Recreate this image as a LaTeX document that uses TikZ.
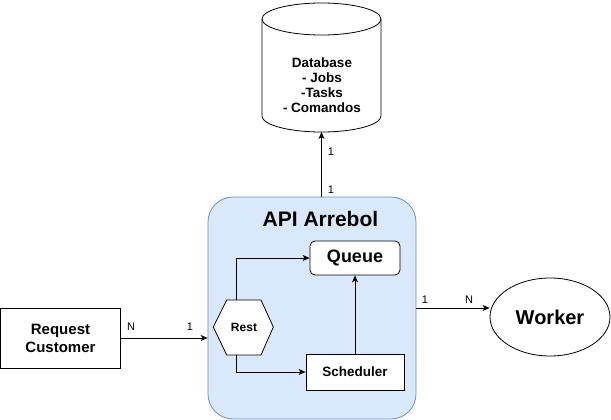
\documentclass[tikz,border=0pt]{standalone}
\usepackage{fontspec}
\setmainfont{Liberation Sans}
\usetikzlibrary{arrows.meta,shapes.geometric}
\definecolor{apifill}{HTML}{DAE8FC}
\definecolor{apidraw}{HTML}{6C8EBF}
\tikzset{
  conn/.style={draw=black, line width=0.8pt, -{Stealth[length=7pt,width=6pt,inset=2pt]}},
  card/.style={font=\fontsize{11}{13}\selectfont, inner sep=0pt},
  boxw/.style={draw=black, line width=0.8pt, fill=white, inner sep=0pt, font=\bfseries},
}
\begin{document}
\begin{tikzpicture}[x=1pt,y=-1pt]
\useasboundingbox (0,0) rectangle (611,420);
% Database cylinder
\draw[line width=0.8pt, fill=white] (262,19) -- (262,116) arc[start angle=180, end angle=360, x radius=59.5pt, y radius=16pt] -- (381,19);
\draw[line width=0.8pt, fill=white] (321.5,19) ellipse[x radius=59.5pt, y radius=16pt];
\node[align=center, font=\bfseries\fontsize{13.5}{15}\selectfont, inner sep=0pt] (db) at (322,85) {Database\\- Jobs\\-Tasks\\- Comandos};
\coordinate (dbbot) at (321.5,132);
% API container
\node[draw=apidraw, fill=apifill, line width=0.8pt, rounded corners=25pt, minimum width=208pt, minimum height=222pt, inner sep=0pt] (api) at (312,308) {};
\node[font=\bfseries\fontsize{21}{24}\selectfont, inner sep=0pt] (apititle) at (320.5,219) {API Arrebol};
% Queue
\node[boxw, rounded corners=5pt, minimum width=90pt, minimum height=34pt, font=\bfseries\fontsize{18}{20}\selectfont] (queue) at (355,258) {Queue};
% Scheduler
\node[boxw, minimum width=98pt, minimum height=36pt, font=\bfseries\fontsize{13.5}{15}\selectfont] (sched) at (355,372) {Scheduler};
% Rest hexagon
\draw[line width=0.8pt, fill=white] (213.3,327) -- (226.7,300) -- (261,300) -- (273.3,327) -- (261,355) -- (226.7,355) -- cycle;
\node[font=\bfseries\fontsize{12}{14}\selectfont, inner sep=0pt] (rest) at (244,327) {Rest};
\coordinate (restTop) at (236,300);
\coordinate (restBot) at (236,355);
% Request Customer
\node[boxw, minimum width=120pt, minimum height=60pt, align=center, font=\bfseries\fontsize{15}{18}\selectfont] (req) at (60.5,338) {Request\\Customer};
% Worker
\node[draw=black, line width=0.8pt, ellipse, fill=white, minimum width=120pt, minimum height=78pt, inner sep=0pt, font=\bfseries\fontsize{20}{22}\selectfont] (worker) at (550,317) {Worker};
% connectors
\draw[conn] (dbbot |- api.north) -- (dbbot);
\draw[conn] (restTop) |- (queue.west);
\draw[conn] (restBot) |- (sched.west);
\draw[conn] (sched.north) -- (queue.south);
\draw[conn] (req.east) -- (req.east -| api.west);
\draw[conn] (api.east) -- (api.east -| worker.west);
% labels
\node[card] (l1) at (331,152) {1};
\node[card] (l2) at (331,190) {1};
\node[card] (l3) at (131,327) {N};
\node[card] (l4) at (190,327) {1};
\node[card] (l5) at (425,300) {1};
\node[card] (l6) at (469,300) {N};
\end{tikzpicture}
\end{document}
